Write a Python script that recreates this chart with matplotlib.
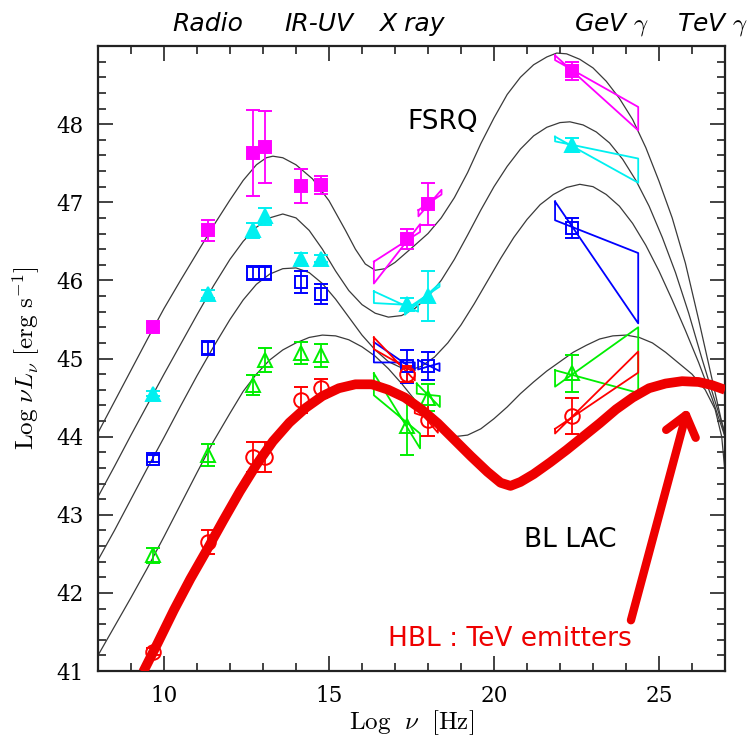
import matplotlib
matplotlib.use("Agg")
import matplotlib.pyplot as plt
from matplotlib.ticker import MultipleLocator, FixedLocator
from matplotlib.transforms import blended_transform_factory

plt.rcParams['mathtext.fontset'] = 'cm'

# ---------------- data ----------------
# Model SED curves (blazar sequence)
c1_x = [8.0, 8.5, 9.0, 9.5, 10.0, 10.5, 11.0, 11.5, 12.0, 12.4, 12.8, 13.1, 13.3, 13.6, 14.0, 14.5, 15.0, 15.5, 15.8,
        16.1, 16.4, 16.7, 17.0, 17.3, 17.6, 18.0, 18.4, 18.8, 19.2, 19.6, 20.0, 20.4, 20.8, 21.2, 21.6, 21.9, 22.2,
        22.6, 23.0, 23.4, 23.8, 24.2, 24.6, 25.0, 25.4, 25.8, 26.2, 26.6, 27.0]
c1_y = [44.05, 44.45, 44.85, 45.25, 45.64, 46.0, 46.35, 46.7, 47.03, 47.28, 47.48, 47.57, 47.59, 47.57, 47.48, 47.3,
        47.02, 46.64, 46.4, 46.21, 46.13, 46.15, 46.23, 46.34, 46.45, 46.6, 46.8, 47.06, 47.38, 47.75, 48.08, 48.38,
        48.6, 48.76, 48.86, 48.91, 48.9, 48.83, 48.72, 48.55, 48.33, 48.06, 47.7, 47.27, 46.8, 46.22, 45.5, 44.75, 44.0]

c2_x = [8.0, 8.5, 9.0, 9.5, 10.0, 10.5, 11.0, 11.5, 12.0, 12.4, 12.8, 13.2, 13.6, 14.0, 14.4, 14.8, 15.2, 15.6, 16.0,
        16.4, 16.8, 17.2, 17.6, 18.0, 18.4, 18.8, 19.2, 19.6, 20.0, 20.4, 20.8, 21.2, 21.6, 22.0, 22.3, 22.7, 23.1,
        23.5, 23.9, 24.3, 24.7, 25.1, 25.5, 25.9, 26.3, 26.7, 27.0]
c2_y = [43.23, 43.62, 44.02, 44.41, 44.8, 45.18, 45.56, 45.93, 46.27, 46.5, 46.68, 46.8, 46.85, 46.8, 46.64, 46.4,
        46.12, 45.87, 45.69, 45.58, 45.53, 45.55, 45.64, 45.79, 46.0, 46.27, 46.58, 46.9, 47.2, 47.46, 47.68, 47.85,
        47.96, 48.02, 48.03, 47.99, 47.9, 47.76, 47.55, 47.28, 46.95, 46.55, 46.1, 45.58, 45.0, 44.45, 44.05]

c3_x = [8.0, 8.5, 9.0, 9.5, 10.0, 10.5, 11.0, 11.5, 12.0, 12.4, 12.8, 13.2, 13.6, 14.0, 14.4, 14.8, 15.2, 15.6, 16.0,
        16.4, 16.8, 17.2, 17.5, 17.8, 18.2, 18.6, 19.0, 19.4, 19.8, 20.2, 20.6, 21.0, 21.4, 21.8, 22.2, 22.6, 23.0,
        23.4, 23.8, 24.2, 24.6, 25.0, 25.4, 25.8, 26.2, 26.6, 27.0]
c3_y = [42.42, 42.8, 43.2, 43.6, 43.99, 44.39, 44.78, 45.15, 45.5, 45.75, 45.95, 46.08, 46.15, 46.16, 46.1, 45.96,
        45.76, 45.53, 45.3, 45.11, 44.96, 44.88, 44.86, 44.9, 45.02, 45.2, 45.43, 45.7, 45.99, 46.28, 46.55, 46.78,
        46.97, 47.1, 47.19, 47.23, 47.2, 47.1, 46.95, 46.73, 46.45, 46.12, 45.75, 45.36, 44.95, 44.5, 44.0]

c4_x = [8.0, 8.5, 9.0, 9.5, 10.0, 10.5, 11.0, 11.5, 12.0, 12.4, 12.8, 13.2, 13.6, 14.0, 14.4, 14.8, 15.2, 15.6, 16.0,
        16.4, 16.8, 17.2, 17.6, 18.0, 18.4, 18.8, 19.2, 19.6, 20.0, 20.4, 20.8, 21.2, 21.6, 22.0, 22.4, 22.8, 23.2,
        23.6, 24.0, 24.4, 24.8, 25.2, 25.6, 26.0, 26.4, 26.7, 26.9, 27.0]
c4_y = [41.2, 41.57, 41.94, 42.32, 42.72, 43.13, 43.54, 43.94, 44.3, 44.58, 44.8, 44.98, 45.11, 45.2, 45.27, 45.3,
        45.29, 45.24, 45.15, 45.03, 44.87, 44.68, 44.47, 44.26, 44.09, 44.0, 44.02, 44.1, 44.23, 44.38, 44.55, 44.7,
        44.84, 44.96, 45.08, 45.17, 45.25, 45.29, 45.3, 45.27, 45.2, 45.08, 44.94, 44.8, 44.6, 44.35, 44.0, 43.55]

# Hand-drawn HBL curve
hbl_x = [9.37, 9.8, 10.3, 10.8, 11.3, 11.8, 12.3, 12.8, 13.3, 13.8, 14.3, 14.8, 15.3, 15.8, 16.3, 16.8, 17.3, 17.8,
         18.3, 18.8, 19.3, 19.8, 20.2, 20.5, 20.8, 21.2, 21.7, 22.2, 22.7, 23.2, 23.7, 24.2, 24.7, 25.2, 25.7, 26.2,
         26.6, 27.0]
hbl_y = [40.99, 41.35, 41.78, 42.18, 42.55, 42.93, 43.3, 43.64, 43.94, 44.18, 44.37, 44.52, 44.62, 44.67, 44.67,
         44.6, 44.5, 44.35, 44.17, 43.96, 43.75, 43.55, 43.41, 43.37, 43.42, 43.52, 43.67, 43.83, 44.0, 44.17, 44.35,
         44.5, 44.62, 44.68, 44.71, 44.7, 44.66, 44.6]

# Binned data points (log nu, log nuL_nu, error)
pts_x = [9.68, 11.34, 12.69, 13.06, 14.14, 14.75, 17.35, 18.01, 22.37]
mag_y = [45.40, 46.64, 47.63, 47.71, 47.21, 47.22, 46.53, 46.98, 48.68]
mag_e = [0.05, 0.13, 0.55, 0.46, 0.22, 0.11, 0.13, 0.27, 0.12]
cya_y = [44.55, 45.83, 46.64, 46.82, 46.28, 46.28, 45.70, 45.80, 47.73]
cya_e = [0.03, 0.05, 0.10, 0.11, 0.07, 0.05, 0.08, 0.32, 0.09]
blu_y = [43.72, 45.13, 46.09, 46.09, 45.98, 45.83, 44.90, 44.90, 46.67]
blu_e = [0.05, 0.09, 0.09, 0.09, 0.14, 0.13, 0.21, 0.18, 0.13]
grn_y = [42.48, 43.76, 44.66, 44.98, 45.07, 45.04, 44.13, 44.50, 44.81]
grn_e = [0.10, 0.14, 0.13, 0.15, 0.14, 0.15, 0.37, 0.17, 0.24]
red_y = [41.25, 42.65, 43.74, 43.74, 44.47, 44.62, 44.80, 44.21, 44.26]
red_e = [0.05, 0.15, 0.19, 0.19, 0.17, 0.12, 0.10, 0.20, 0.23]

# Spectral "bow-ties": (x_left, x_right, y_left_top, y_right_a, y_right_b, y_left_bottom)
mag_bow = [(16.36, 17.76, 46.24, 46.62, 46.72, 45.96),
           (17.71, 18.41, 46.90, 47.10, 47.16, 46.82),
           (21.85, 24.37, 48.88, 47.92, 48.22, 48.82)]
cya_bow = [(16.36, 17.70, 45.86, 45.60, 45.68, 45.71),
           (17.30, 18.35, 45.62, 45.92, 45.96, 45.56),
           (21.85, 24.37, 47.84, 47.25, 47.56, 47.78)]
blu_bow = [(16.36, 17.60, 45.21, 44.85, 44.95, 44.95),
           (17.70, 18.35, 44.98, 44.84, 44.94, 44.86),
           (21.85, 24.37, 47.01, 45.45, 46.35, 46.77)]
grn_bow = [(16.36, 17.76, 44.81, 43.85, 44.04, 44.53),
           (17.66, 18.36, 44.68, 44.38, 44.52, 44.55),
           (21.85, 24.37, 44.85, 44.56, 45.40, 44.64)]
red_bow = [(16.36, 17.60, 45.27, 44.72, 44.82, 45.12),
           (17.60, 18.30, 44.40, 44.05, 44.20, 44.30),
           (21.85, 24.37, 44.10, 44.82, 45.09, 44.04)]

band_names = ['Radio', 'IR-UV', 'X ray', r'GeV $\gamma$', r'TeV $\gamma$']
band_x = [11.33, 14.7, 17.52, 23.58, 26.63]

# ---------------- figure ----------------
fig = plt.figure(figsize=(7.52, 7.40), dpi=100)
ax = fig.add_axes([0.1303, 0.0932, 0.8338, 0.8446])

curve_col = '#3a3a3a'
for cx, cy in [(c1_x, c1_y), (c2_x, c2_y), (c3_x, c3_y), (c4_x, c4_y)]:
    ax.plot(cx, cy, color=curve_col, lw=0.9, zorder=2, solid_joinstyle='round')

ax.plot(hbl_x, hbl_y, color='#ee0000', lw=7, solid_joinstyle='round', solid_capstyle='butt', zorder=6)

series = [
    (mag_y, mag_e, mag_bow, '#ff00ff', 's', True, 8.5),
    (cya_y, cya_e, cya_bow, '#00f0f0', '^', True, 9.5),
    (blu_y, blu_e, blu_bow, '#0000ff', 's', False, 8.5),
    (grn_y, grn_e, grn_bow, '#00ee00', '^', False, 9.5),
    (red_y, red_e, red_bow, '#ff0000', 'o', False, 10.5),
]
for yv, ev, bows, col, mk, filled, ms in series:
    for (x0, x1, a, b, c, d) in bows:
        ax.plot([x0, x1, x1, x0, x0], [a, b, c, d, a], color=col, lw=1.3, zorder=3)
    ax.errorbar(pts_x, yv, yerr=ev, fmt=mk, color=col, ms=ms,
                mfc=col if filled else 'none', mec=col, mew=1.4,
                elinewidth=1.3, capsize=4.7, capthick=1.5, zorder=4)

# arrow
ax.annotate('', xy=(25.87, 44.36), xytext=(24.15, 41.65),
            arrowprops=dict(arrowstyle='->,head_length=0.7,head_width=0.55', color='#ee0000',
                            lw=6, mutation_scale=20, shrinkA=0, shrinkB=0), zorder=7)

# texts
ax.text(18.44, 48.03, 'FSRQ', fontsize=19, ha='center', va='center', family='DejaVu Sans')
ax.text(22.3, 42.68, 'BL LAC', fontsize=19, ha='center', va='center', family='DejaVu Sans')
ax.text(20.47, 41.41, 'HBL : TeV emitters', fontsize=19, ha='center', va='center',
        color='#ee0000', family='DejaVu Sans')

trans = blended_transform_factory(ax.transData, ax.transAxes)
for name, bx in zip(band_names, band_x):
    ax.text(bx, 1.035, name, transform=trans, fontsize=18, style='italic',
            ha='center', va='center', family='DejaVu Sans')

ax.set_xlim(8, 27)
ax.set_ylim(41, 49)
ax.xaxis.set_major_locator(FixedLocator([10, 15, 20, 25]))
ax.xaxis.set_minor_locator(MultipleLocator(1))
ax.yaxis.set_major_locator(FixedLocator([41, 42, 43, 44, 45, 46, 47, 48]))
ax.yaxis.set_minor_locator(MultipleLocator(0.2))
ax.tick_params(which='both', direction='in', top=True, right=True, width=1.2, color='#222222')
ax.tick_params(which='major', length=11, pad=10, labelsize=15.5)
ax.tick_params(which='minor', length=5.5)
for lab in ax.get_xticklabels() + ax.get_yticklabels():
    lab.set_family('DejaVu Serif')
for s in ax.spines.values():
    s.set_linewidth(1.6)
    s.set_color('#222222')

ax.set_xlabel(r'$\mathrm{Log}\ \ \nu\ \ [\mathrm{Hz}]$', fontsize=18)
ax.set_ylabel(r'$\mathrm{Log}\ \nu L_\nu\ [\mathrm{erg\ s^{-1}}]$', fontsize=18)
ax.xaxis.set_label_coords(0.5, -0.06)
ax.yaxis.set_label_coords(-0.089, 0.5)

fig.savefig('out.png', dpi=100)
